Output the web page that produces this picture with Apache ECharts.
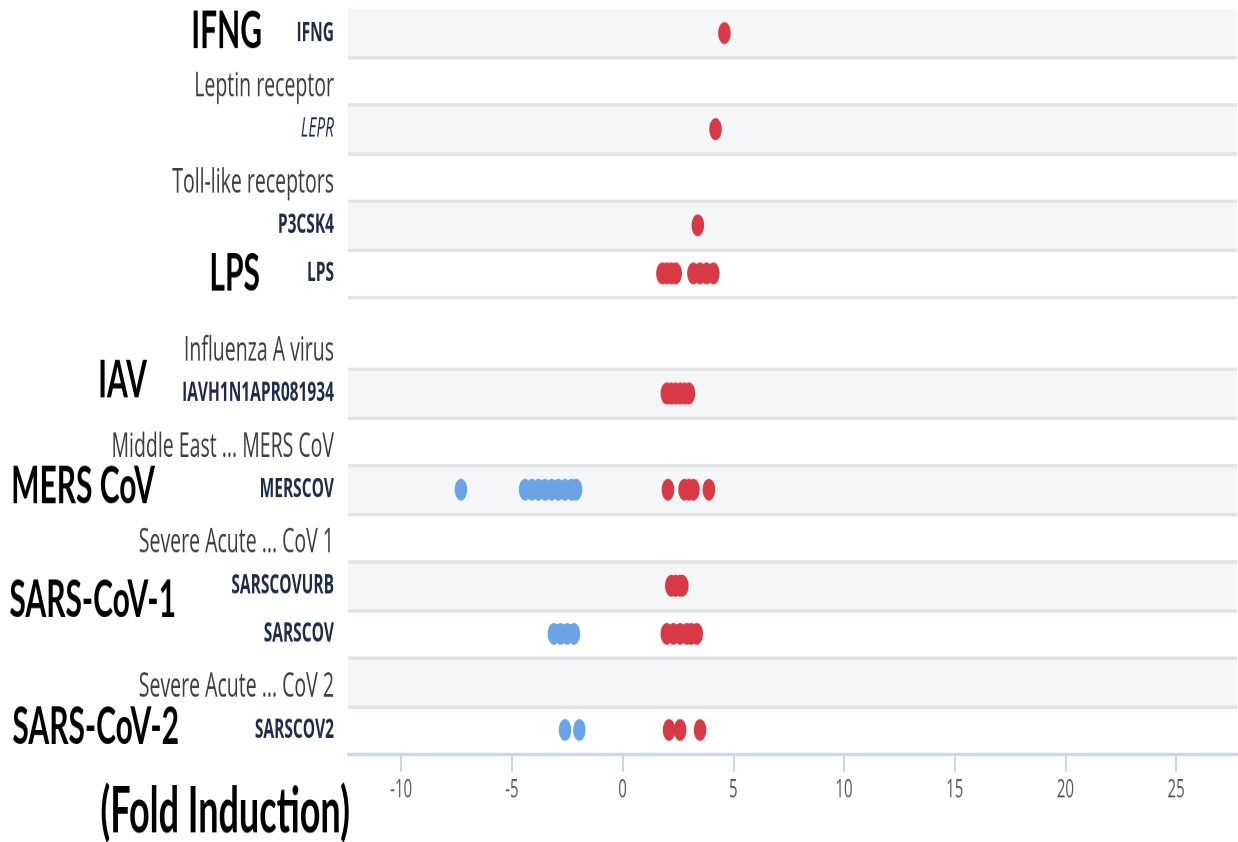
<!DOCTYPE html>
<html><head><meta charset="utf-8">
<script src="https://cdn.jsdelivr.net/npm/echarts@6/dist/echarts.min.js"></script>
<style>
html,body{margin:0;padding:0;overflow:hidden;background:#fff;width:1238px;height:842px;}
#chart{width:1238px;height:481px;transform:scaleY(1.75052);transform-origin:0 0;}
</style></head><body><div id="chart"></div>
<script>
// ---------------- data ----------------
const rowLabels = ['IFNG','Leptin receptor','LEPR','Toll-like receptors','P3CSK4','LPS',
  'Influenza A virus','IAVH1N1APR081934','Middle East ... MERS CoV','MERSCOV',
  'Severe Acute ... CoV 1','SARSCOVURB','SARSCOV','Severe Acute ... CoV 2','SARSCOV2'];
const groupHeaders = ['Leptin receptor','Toll-like receptors','Influenza A virus',
  'Middle East ... MERS CoV','Severe Acute ... CoV 1','Severe Acute ... CoV 2'];
const italicLabels = ['LEPR'];
const annotationTexts = ['IFNG','LPS','IAV','MERS CoV','SARS-CoV-1','SARS-CoV-2'];
const axisTitle = '(Fold Induction)';
const xTicks = [-10,-5,0,5,10,15,20,25];

// fold induction values per row (up = red, down = blue)
const IFNG_up = [4.6];
const LEPR_up = [4.2];
const P3CSK4_up = [3.4];
const LPS_up = [1.8, 2.0, 2.2, 2.4, 3.2, 3.5, 3.8, 4.1];
const IAV_up = [2.0, 2.2, 2.4, 2.6, 2.8, 3.0];
const MERSCOV_up = [2.05, 2.8, 3.0, 3.2, 3.9];
const MERSCOV_down = [-7.3, -4.4, -4.1, -3.8, -3.5, -3.2, -2.9, -2.6, -2.3, -2.1];
const SARSCOVURB_up = [2.2, 2.4, 2.6, 2.7];
const SARSCOV_up = [2.0, 2.3, 2.6, 2.9, 3.1, 3.35];
const SARSCOV_down = [-3.1, -2.8, -2.5, -2.2];
const SARSCOV2_up = [2.1, 2.6, 3.5];
const SARSCOV2_down = [-2.6, -1.95];

const upByRow = {IFNG: IFNG_up, LEPR: LEPR_up, P3CSK4: P3CSK4_up, LPS: LPS_up,
  IAVH1N1APR081934: IAV_up, MERSCOV: MERSCOV_up, SARSCOVURB: SARSCOVURB_up,
  SARSCOV: SARSCOV_up, SARSCOV2: SARSCOV2_up};
const downByRow = {MERSCOV: MERSCOV_down, SARSCOV: SARSCOV_down, SARSCOV2: SARSCOV2_down};

// ---------------- layout ----------------
const SCALE = 842 / 481;          // page is stretched vertically like the reference
const spacerBefore = 'Influenza A virus';
const slotOf = {}, labelAtSlot = {}, bandRows = [], rowBottoms = [];
let slot = 1, k = 0;
rowLabels.forEach(r => {
  if (r === spacerBefore) { slot += 1; k += 1; }
  slotOf[r] = slot; labelAtSlot[slot] = r;
  if (k % 2 === 0) bandRows.push(r);
  rowBottoms.push(slot + 1);
  slot += 2; k += 1;
});
const maxSlot = slot - 1;
rowBottoms.pop(); // last one is the x axis line

function pts(map) {
  const out = [];
  Object.keys(map).forEach(r => map[r].forEach(v => out.push([v, slotOf[r]])));
  return out;
}

const annPos = [ // [right x, centre y] in reference pixels
  [262, 31], [260, 274], [147, 380], [155, 486], [176, 600], [179, 727]
];

const chart = echarts.init(document.getElementById('chart'), null, {renderer: 'canvas', devicePixelRatio: 2});
const graphics = annotationTexts.map((t, i) => ({
  type: 'text', x: annPos[i][0], y: annPos[i][1] / SCALE, silent: true,
  style: {text: t, font: 'bold 30px Lato', fill: '#000', align: 'right', textAlign: 'right',
          verticalAlign: 'middle', textVerticalAlign: 'middle'}
}));
graphics.push({
  type: 'text', x: 350, y: 812 / SCALE, silent: true,
  style: {text: axisTitle, font: 'bold 36px Lato', fill: '#000', align: 'right', textAlign: 'right',
          verticalAlign: 'middle', textVerticalAlign: 'middle'}
});

chart.setOption({
  animation: false,
  backgroundColor: '#fff',
  grid: {left: 348, right: 1, top: 9 / SCALE, bottom: 481 - 754 / SCALE},
  xAxis: {
    type: 'value', min: -12.4, max: 27.75,
    axisLine: {show: true, onZero: false, lineStyle: {color: '#ccd6eb', width: 2}},
    axisTick: {show: true, inside: false, length: 10, customValues: xTicks, lineStyle: {color: '#ccd6eb', width: 2}},
    axisLabel: {customValues: xTicks, fontSize: 15, color: '#555', margin: 13, fontFamily: 'Open Sans'},
    splitLine: {show: false}
  },
  yAxis: {
    type: 'value', inverse: true, min: 0, max: maxSlot, interval: 1,
    axisLine: {show: false}, axisTick: {show: false}, splitLine: {show: false},
    axisLabel: {
      margin: 14,
      formatter: v => {
        const r = labelAtSlot[v];
        if (!r) return '';
        if (groupHeaders.includes(r)) return '{h|' + r + '}';
        if (italicLabels.includes(r)) return '{i|' + r + '}';
        return '{d|' + r + '}';
      },
      rich: {
        h: {fontSize: 19.5, color: '#3c3c3c', fontFamily: 'Open Sans', padding: [6, 0, 0, 0]},
        d: {fontSize: 15.5, color: '#1e2a48', fontFamily: 'Open Sans', fontWeight: 'bold'},
        i: {fontSize: 15.5, color: '#1e2a48', fontFamily: 'Open Sans', fontStyle: 'italic'}
      }
    }
  },
  graphic: graphics,
  series: [
    {
      name: 'Up', type: 'scatter', symbol: 'circle', symbolSize: 12.5,
      itemStyle: {color: '#d83a45', opacity: 1}, data: pts(upByRow), z: 5,
      markArea: {silent: true, itemStyle: {color: '#f5f6f7'},
        data: bandRows.map(r => [{yAxis: slotOf[r] - 1}, {yAxis: slotOf[r] + 1}])},
      markLine: {silent: true, symbol: ['none', 'none'], label: {show: false},
        lineStyle: {color: '#e2e3e3', width: 2, type: 'solid'},
        data: rowBottoms.map(y => ({yAxis: y}))}
    },
    {
      name: 'Down', type: 'scatter', symbol: 'circle', symbolSize: 12.5,
      itemStyle: {color: '#6aa4e6', opacity: 1}, data: pts(downByRow), z: 5
    }
  ]
});
</script></body></html>
